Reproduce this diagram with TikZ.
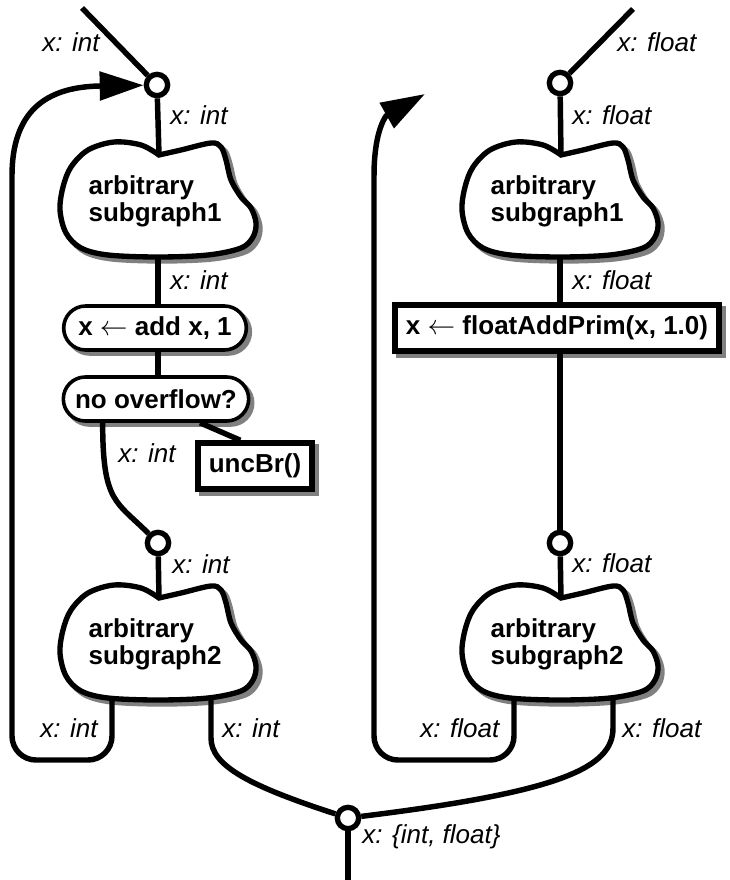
\documentclass[tikz,border=0pt]{standalone}
\usepackage{fontspec}
\setmainfont{Liberation Sans}
\usetikzlibrary{arrows.meta,shapes.misc,shadows,calc}

\definecolor{shadowgray}{gray}{0.5}

\tikzset{
  conn/.style={line width=4.1pt},
  port/.style={circle, draw, fill=white, line width=4pt, minimum size=16pt, inner sep=0pt},
  typelabel/.style={font=\fontsize{19.5}{22}\selectfont\itshape, anchor=base west, inner sep=0pt},
  boxfont/.style={font=\fontsize{19.5}{20.25}\selectfont\bfseries},
  softshadow/.style={drop shadow={shadow xshift=3pt, shadow yshift=-3pt, opacity=1, fill=shadowgray, draw=shadowgray}},
  opbox/.style={boxfont, rounded rectangle, draw, fill=white, line width=2.7pt,
    minimum width=137pt, minimum height=33pt, inner sep=0pt, softshadow},
  primbox/.style={boxfont, rectangle, draw, fill=white, line width=4.6pt,
    minimum height=34pt, inner sep=0pt, softshadow},
  looparrow/.style={conn, -{Triangle[length=33pt, width=21pt]}},
  blob/.pic={
    \filldraw[shadowgray, line width=4pt, shift={(4,4)}]
      plot[smooth, tension=0.55] coordinates {(1,-45) (23,-50) (53,-57) (63,-53) (68,-40)
        (73,-20) (83,-3) (93,8) (98,23) (95,37) (83,48) (50,55) (0,57) (-50,55) (-77,48)
        (-92,33) (-98,10) (-95,-13) (-87,-33) (-70,-50) (-44,-58) (-17,-55) (1,-45)} -- cycle;
    \filldraw[draw=black, fill=white, line width=4pt]
      plot[smooth, tension=0.55] coordinates {(1,-45) (23,-50) (53,-57) (63,-53) (68,-40)
        (73,-20) (83,-3) (93,8) (98,23) (95,37) (83,48) (50,55) (0,57) (-50,55) (-77,48)
        (-92,33) (-98,10) (-95,-13) (-87,-33) (-70,-50) (-44,-58) (-17,-55) (1,-45)} -- cycle;
    \coordinate (-top) at (1,-45);
    \coordinate (-bot) at (0,57);
    \coordinate (-pl) at (-46,55);
    \coordinate (-pr) at (53,55);
    \node[boxfont, align=left, inner sep=0pt] (-txt) at (-3,1) {#1};
  }
}

\begin{document}
\begin{tikzpicture}[x=0.75pt, y=-0.75pt]
\useasboundingbox (0,0) rectangle (730,880);

% ---- left branch: int ----
\node[port] (cA) at (157,85) {};
\pic (c1L) at (158,200) {blob={arbitrary\\subgraph1}};
\node[opbox] (add) at (155,328) {x $\leftarrow$ add x, 1};
\node[opbox, minimum width=139pt] (ovf) at (156,399) {no overflow?};
\node[primbox, minimum width=85.5pt] (unc) at (255,466) {uncBr()};
\node[port] (cB) at (158,543) {};
\pic (c2L) at (158,643) {blob={arbitrary\\subgraph2}};

% ---- right branch: float ----
\node[port] (cC) at (560,83) {};
\pic (c1R) at (560,200) {blob={arbitrary\\subgraph1}};
\node[primbox, minimum width=243pt] (fbox) at (557,328) {x $\leftarrow$ floatAddPrim(x, 1.0)};
\node[port] (cE) at (560,543) {};
\pic (c2R) at (560,643) {blob={arbitrary\\subgraph2}};

% ---- merge ----
\node[port] (cD) at (348,818) {};

% free ends
\coordinate (inL) at (82,8);
\coordinate (inR) at (633,9);
\coordinate (outEnd) at (348,880);
\coordinate (rtip) at (425,94);

% ---- connectors, left ----
\draw[conn] (inL) -- (cA);
\draw[conn] (cA) -- (c1L-top);
\draw[conn] (c1L-bot) -- (c1L-bot |- add.north);
\draw[conn] (c1L-bot |- add.south) -- (c1L-bot |- ovf.north);
\draw[conn] ([xshift=33pt]ovf.south) -- ([xshift=-11pt]unc.north);
\draw[conn] ([xshift=-40pt]ovf.south) .. controls +(0,80) and +(-42,-42) .. (cB);
\draw[conn] (cB) -- (c2L-top);
\draw[looparrow, rounded corners=18pt] (c2L-pl) |- (12,760) -- (12,200)
  [sharp corners] .. controls (12,112) and (45,87) .. (100,86) -- (cA);
\draw[conn] (c2L-pr) -- ++(0,40) .. controls +(0,28) and (250,786) .. (cD);

% ---- connectors, right ----
\draw[conn] (inR) -- (cC);
\draw[conn] (cC) -- (c1R-top);
\draw[conn] (c1R-bot) -- (c1R-bot |- fbox.north);
\draw[conn] (cE |- fbox.south) -- (cE);
\draw[conn] (cE) -- (c2R-top);
\draw[looparrow, rounded corners=18pt] (c2R-pl) |- (374,760) -- (374,200)
  [sharp corners] .. controls (374,150) and (378,128) .. (386,116) -- (rtip);
\draw[conn] (c2R-pr) -- ++(0,30) .. controls +(0,40) and (560,792) .. (cD);

\draw[conn] (cD) -- (outEnd);

% ---- type labels ----
\node[typelabel] (l1) at (42,52) {x: int};
\node[typelabel] (l2) at (170,125) {x: int};
\node[typelabel] (l3) at (170,290) {x: int};
\node[typelabel] (l4) at (118,462) {x: int};
\node[typelabel] (l5) at (172,573) {x: int};
\node[typelabel] (l6) at (40,737) {x: int};
\node[typelabel] (l7) at (222,737) {x: int};
\node[typelabel] (r1) at (617,52) {x: float};
\node[typelabel] (r2) at (572,125) {x: float};
\node[typelabel] (r3) at (572,290) {x: float};
\node[typelabel] (r4) at (572,572) {x: float};
\node[typelabel] (r5) at (420,737) {x: float};
\node[typelabel] (r6) at (622,737) {x: float};
\node[typelabel] (b1) at (362,843) {x: \{int, float\}};
\end{tikzpicture}
\end{document}
